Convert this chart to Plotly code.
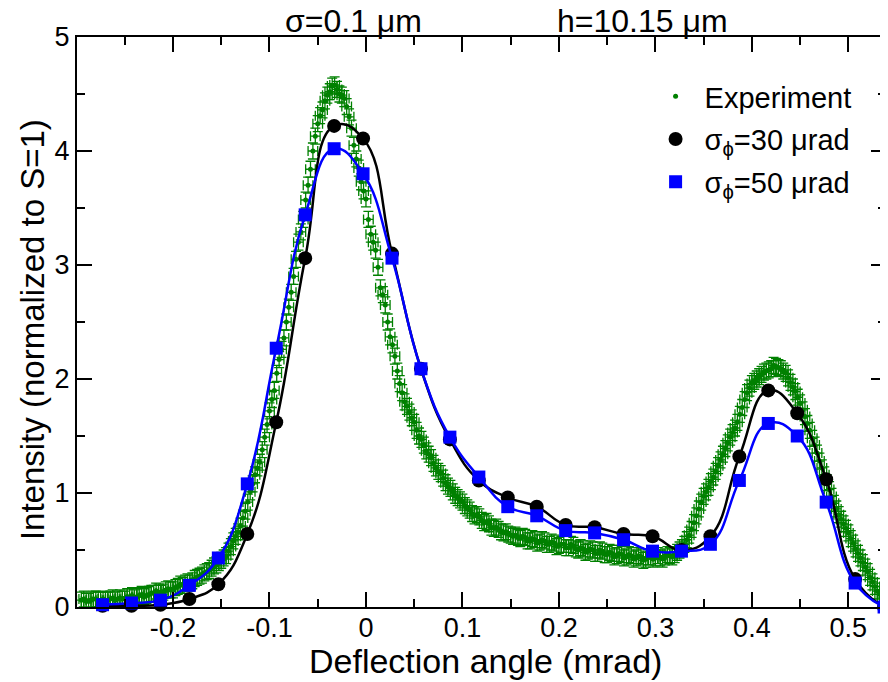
import plotly.graph_objects as go

# ---------------- data ----------------
exp_x = [
    -0.295, -0.290, -0.285, -0.280, -0.275, -0.270, -0.265, -0.260, -0.255, -0.250,
    -0.245, -0.240, -0.235, -0.230, -0.225, -0.220, -0.215, -0.210, -0.205, -0.200,
    -0.195, -0.190, -0.185, -0.180, -0.175, -0.170, -0.165, -0.160, -0.155, -0.150,
    -0.145, -0.140, -0.135, -0.130, -0.125, -0.120, -0.115, -0.110, -0.105, -0.100,
    -0.095, -0.090, -0.085, -0.080, -0.075, -0.070, -0.065, -0.060, -0.055, -0.050,
    -0.045, -0.040, -0.035, -0.030, -0.025, -0.020, -0.015, -0.010, -0.005, 0.000,
    0.005, 0.010, 0.015, 0.020, 0.025, 0.030, 0.035, 0.040, 0.045, 0.050,
    0.055, 0.060, 0.065, 0.070, 0.075, 0.080, 0.085, 0.090, 0.095, 0.100,
    0.105, 0.110, 0.115, 0.120, 0.125, 0.130, 0.135, 0.140, 0.145, 0.150,
    0.155, 0.160, 0.165, 0.170, 0.175, 0.180, 0.185, 0.190, 0.195, 0.200,
    0.205, 0.210, 0.215, 0.220, 0.225, 0.230, 0.235, 0.240, 0.245, 0.250,
    0.255, 0.260, 0.265, 0.270, 0.275, 0.280, 0.285, 0.290, 0.295, 0.300,
    0.305, 0.310, 0.315, 0.320, 0.325, 0.330, 0.335, 0.340, 0.345, 0.350,
    0.355, 0.360, 0.365, 0.370, 0.375, 0.380, 0.385, 0.390, 0.395, 0.400,
    0.405, 0.410, 0.415, 0.420, 0.425, 0.430, 0.435, 0.440, 0.445, 0.450,
    0.455, 0.460, 0.465, 0.470, 0.475, 0.480, 0.485, 0.490, 0.495, 0.500,
    0.505, 0.510, 0.515, 0.520, 0.525, 0.530, 0.535,
]
exp_y = [
    0.06, 0.05, 0.06, 0.07, 0.06, 0.06, 0.07, 0.06, 0.08, 0.07,
    0.09, 0.08, 0.10, 0.09, 0.11, 0.12, 0.13, 0.13, 0.16, 0.15,
    0.18, 0.19, 0.22, 0.23, 0.26, 0.28, 0.31, 0.34, 0.37, 0.41,
    0.45, 0.53, 0.62, 0.71, 0.84, 1.01, 1.16, 1.27, 1.49, 1.72,
    1.90, 2.17, 2.36, 2.63, 2.90, 3.20, 3.40, 3.70, 4.00, 4.24,
    4.36, 4.49, 4.57, 4.54, 4.49, 4.39, 4.20, 3.93, 3.73, 3.58,
    3.27, 3.13, 2.80, 2.65, 2.37, 2.20, 1.96, 1.80, 1.71, 1.62,
    1.50, 1.42, 1.34, 1.26, 1.19, 1.13, 1.06, 1.01, 0.96, 0.92,
    0.87, 0.82, 0.81, 0.76, 0.75, 0.70, 0.70, 0.66, 0.66, 0.63,
    0.63, 0.60, 0.61, 0.58, 0.59, 0.57, 0.58, 0.55, 0.56, 0.54,
    0.55, 0.52, 0.54, 0.50, 0.51, 0.49, 0.50, 0.47, 0.49, 0.46,
    0.47, 0.45, 0.46, 0.44, 0.45, 0.43, 0.44, 0.42, 0.44, 0.43,
    0.43, 0.44, 0.45, 0.46, 0.50, 0.55, 0.63, 0.74, 0.86, 0.97,
    1.05, 1.14, 1.24, 1.34, 1.44, 1.53, 1.62, 1.75, 1.88, 1.96,
    2.00, 2.04, 2.07, 2.09, 2.11, 2.09, 2.05, 1.97, 1.89, 1.79,
    1.67, 1.55, 1.42, 1.28, 1.16, 1.03, 0.91, 0.81, 0.73, 0.65,
    0.56, 0.47, 0.39, 0.31, 0.22, 0.14, 0.08,
]
# second (interleaved) set of experimental points
exp_x2 = [
    -0.2925, -0.2875, -0.2825, -0.2775, -0.2725, -0.2675, -0.2625, -0.2575, -0.2525, -0.2475,
    -0.2425, -0.2375, -0.2325, -0.2275, -0.2225, -0.2175, -0.2125, -0.2075, -0.2025, -0.1975,
    -0.1925, -0.1875, -0.1825, -0.1775, -0.1725, -0.1675, -0.1625, -0.1575, -0.1525, -0.1475,
    -0.1425, -0.1375, -0.1325, -0.1275, -0.1225, -0.1175, -0.1125, -0.1075, -0.1025, -0.0975,
    -0.0925, -0.0875, -0.0825, -0.0775, -0.0725, -0.0675, -0.0625, -0.0575, -0.0525, -0.0475,
    -0.0425, -0.0375, -0.0325, -0.0275, -0.0225, -0.0175, -0.0125, -0.0075, -0.0025, 0.0025,
    0.0075, 0.0125, 0.0175, 0.0225, 0.0275, 0.0325, 0.0375, 0.0425, 0.0475, 0.0525,
    0.0575, 0.0625, 0.0675, 0.0725, 0.0775, 0.0825, 0.0875, 0.0925, 0.0975, 0.1025,
    0.1075, 0.1125, 0.1175, 0.1225, 0.1275, 0.1325, 0.1375, 0.1425, 0.1475, 0.1525,
    0.1575, 0.1625, 0.1675, 0.1725, 0.1775, 0.1825, 0.1875, 0.1925, 0.1975, 0.2025,
    0.2075, 0.2125, 0.2175, 0.2225, 0.2275, 0.2325, 0.2375, 0.2425, 0.2475, 0.2525,
    0.2575, 0.2625, 0.2675, 0.2725, 0.2775, 0.2825, 0.2875, 0.2925, 0.2975, 0.3025,
    0.3075, 0.3125, 0.3175, 0.3225, 0.3275, 0.3325, 0.3375, 0.3425, 0.3475, 0.3525,
    0.3575, 0.3625, 0.3675, 0.3725, 0.3775, 0.3825, 0.3875, 0.3925, 0.3975, 0.4025,
    0.4075, 0.4125, 0.4175, 0.4225, 0.4275, 0.4325, 0.4375, 0.4425, 0.4475, 0.4525,
    0.4575, 0.4625, 0.4675, 0.4725, 0.4775, 0.4825, 0.4875, 0.4925, 0.4975, 0.5025,
    0.5075, 0.5125, 0.5175, 0.5225, 0.5275, 0.5325,
]
exp_y2 = [
    0.07, 0.05, 0.07, 0.06, 0.07, 0.06, 0.08, 0.07, 0.07, 0.09,
    0.10, 0.09, 0.11, 0.10, 0.12, 0.14, 0.12, 0.15, 0.15, 0.17,
    0.20, 0.21, 0.21, 0.25, 0.27, 0.30, 0.32, 0.36, 0.39, 0.43,
    0.49, 0.58, 0.66, 0.78, 0.92, 1.08, 1.22, 1.38, 1.60, 1.82,
    2.05, 2.26, 2.50, 2.76, 3.05, 3.29, 3.57, 3.84, 4.13, 4.31,
    4.44, 4.52, 4.58, 4.50, 4.46, 4.30, 4.05, 3.85, 3.65, 3.40,
    3.20, 2.98, 2.74, 2.50, 2.30, 2.07, 1.88, 1.76, 1.66, 1.55,
    1.47, 1.37, 1.31, 1.22, 1.17, 1.09, 1.04, 0.98, 0.94, 0.89,
    0.85, 0.80, 0.79, 0.74, 0.73, 0.69, 0.68, 0.65, 0.64, 0.62,
    0.61, 0.62, 0.58, 0.60, 0.56, 0.59, 0.55, 0.57, 0.53, 0.55,
    0.52, 0.55, 0.51, 0.52, 0.48, 0.51, 0.47, 0.50, 0.46, 0.48,
    0.44, 0.47, 0.43, 0.46, 0.42, 0.45, 0.41, 0.44, 0.42, 0.45,
    0.42, 0.46, 0.44, 0.48, 0.52, 0.59, 0.68, 0.80, 0.92, 1.01,
    1.10, 1.19, 1.29, 1.39, 1.49, 1.57, 1.69, 1.82, 1.92, 1.98,
    2.02, 2.06, 2.08, 2.12, 2.10, 2.07, 2.01, 1.93, 1.84, 1.73,
    1.61, 1.48, 1.35, 1.22, 1.09, 0.97, 0.86, 0.77, 0.69, 0.60,
    0.51, 0.43, 0.35, 0.26, 0.18, 0.11,
]
exp_x_err = 0.005
exp_y_err = 0.07

model_x = [-0.273, -0.243, -0.213, -0.183, -0.153, -0.123, -0.093, -0.063, -0.033, -0.003,
           0.027, 0.057, 0.087, 0.117, 0.147, 0.177, 0.207, 0.237, 0.267, 0.297,
           0.327, 0.357, 0.387, 0.417, 0.447, 0.477, 0.507, 0.537]
sigma30_y = [0.01, 0.01, 0.02, 0.07, 0.20, 0.64, 1.62, 3.06, 4.22, 4.11,
             3.10, 2.09, 1.47, 1.11, 0.96, 0.88, 0.72, 0.70, 0.64, 0.62,
             0.50, 0.62, 1.32, 1.90, 1.70, 1.12, 0.245, 0.0]
sigma50_y = [0.02, 0.035, 0.06, 0.19, 0.43, 1.08, 2.27, 3.44, 4.02, 3.80,
             3.06, 2.09, 1.49, 1.14, 0.88, 0.80, 0.67, 0.65, 0.59, 0.49,
             0.49, 0.55, 1.11, 1.61, 1.50, 0.92, 0.21, 0.0]

x_tick_vals = [-0.2, -0.1, 0, 0.1, 0.2, 0.3, 0.4, 0.5]
x_tick_text = ["-0.2", "-0.1", "0", "0.1", "0.2", "0.3", "0.4", "0.5"]
y_tick_vals = [0, 1, 2, 3, 4, 5]

FONT = "Liberation Sans, Arial, Helvetica, sans-serif"
GREEN = "#008000"

# page offset of the figure (browser default body margin)
OFF = 8
# plot area in page pixels
PL, PR, PT, PB = 77, 888, 37, 607


def px_x(px):
    return (px - PL) / (PR - PL)


def px_y(py):
    return (PB - py) / (PB - PT)


fig = go.Figure()

fig.add_trace(go.Scatter(
    x=exp_x + exp_x2, y=exp_y + exp_y2, mode="markers", name="Experiment",
    marker=dict(color=GREEN, size=5),
    error_y=dict(type="constant", value=exp_y_err, color=GREEN, thickness=1.3, width=5),
    error_x=dict(type="constant", value=exp_x_err, color=GREEN, thickness=1.3, width=5),
    cliponaxis=False, legendgroup="a",
))
fig.add_trace(go.Scatter(
    x=model_x, y=sigma30_y, mode="lines", showlegend=False,
    line=dict(color="black", width=2.5, shape="spline", smoothing=1.3),
))
fig.add_trace(go.Scatter(
    x=model_x, y=sigma30_y, mode="markers", name="σ<sub>ϕ</sub>=30 μrad",
    marker=dict(color="black", size=14, symbol="circle"),
    cliponaxis=False, legendgroup="b",
))
fig.add_trace(go.Scatter(
    x=model_x, y=sigma50_y, mode="lines", showlegend=False,
    line=dict(color="#0000ff", width=2.5, shape="spline", smoothing=1.3),
))
fig.add_trace(go.Scatter(
    x=model_x, y=sigma50_y, mode="markers", name="σ<sub>ϕ</sub>=50 μrad",
    marker=dict(color="#0000ff", size=13, symbol="square"),
    cliponaxis=False, legendgroup="c",
))

axis_common = dict(
    showline=True, linecolor="black", linewidth=2, mirror="ticks",
    ticks="inside", tickcolor="black", tickwidth=1.5, ticklen=15,
    showgrid=False, zeroline=False,
    tickfont=dict(family=FONT, size=27, color="black"),
)

fig.update_xaxes(range=[-0.2995, 0.539], tickvals=x_tick_vals, ticktext=x_tick_text,
                 ticklabelstandoff=-4,
                 minor=dict(dtick=0.05, tick0=0, ticks="inside", ticklen=8,
                            tickwidth=1.5, tickcolor="black"),
                 **axis_common)
fig.update_yaxes(range=[0, 5], tickvals=y_tick_vals,
                 minor=dict(dtick=0.5, tick0=0, ticks="inside", ticklen=8,
                            tickwidth=1.5, tickcolor="black"),
                 **axis_common)

fig.update_layout(
    width=888 - OFF, height=682 - OFF,
    margin=dict(l=PL - OFF, r=0, t=PT - OFF, b=682 - PB),
    plot_bgcolor="white", paper_bgcolor="white",
    font=dict(family=FONT, size=27, color="black"),
    legend=dict(x=px_x(648), y=px_y(71), xanchor="left", yanchor="top",
                bgcolor="rgba(0,0,0,0)", font=dict(family=FONT, size=29),
                tracegroupgap=2, itemwidth=48),
    annotations=[
        dict(text="σ=0.1 μm", x=px_x(354), y=px_y(21), xref="paper", yref="paper",
             showarrow=False, font=dict(size=32), xanchor="center", yanchor="middle"),
        dict(text="h=10.15 μm", x=px_x(644), y=px_y(21), xref="paper", yref="paper",
             showarrow=False, font=dict(size=32), xanchor="center", yanchor="middle"),
        dict(text="Deflection angle (mrad)", x=px_x(487), y=px_y(661), xref="paper",
             yref="paper", showarrow=False, font=dict(size=34), xanchor="center",
             yanchor="middle"),
        dict(text="Intensity (normalized to S=1)", x=px_x(32), y=px_y(330), xref="paper",
             yref="paper", showarrow=False, font=dict(size=33), textangle=-90,
             xanchor="center", yanchor="middle"),
    ],
)

fig.write_html("out.html")
